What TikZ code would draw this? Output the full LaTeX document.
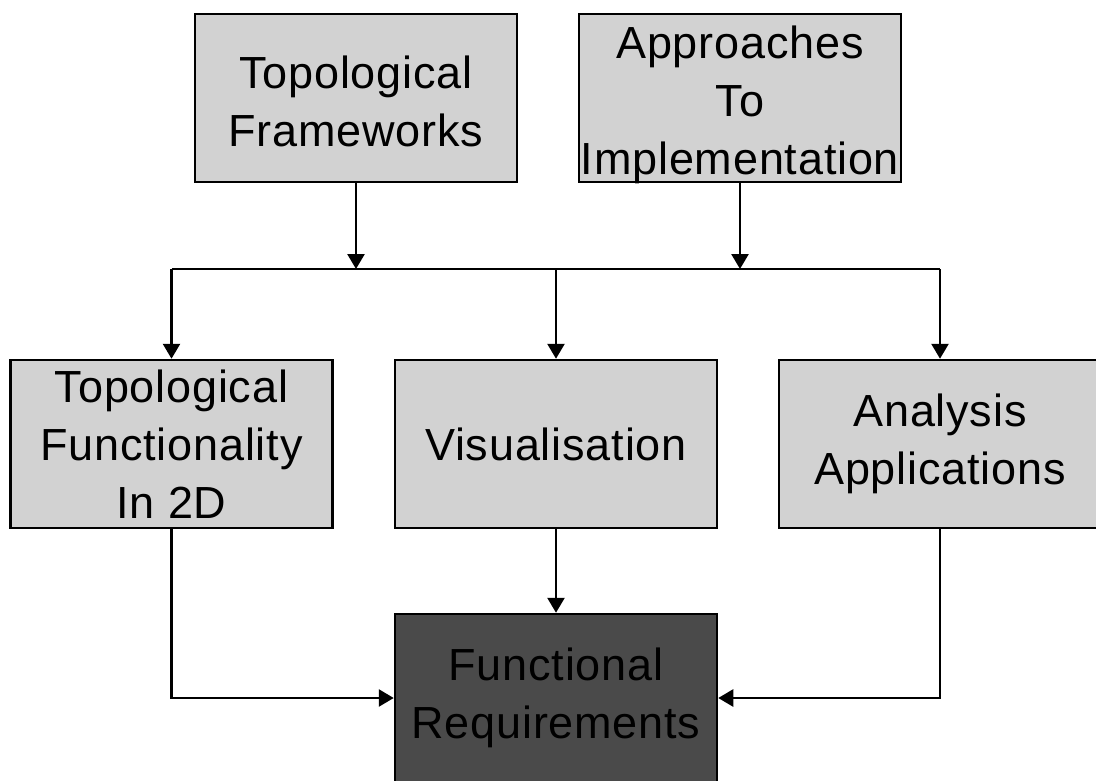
\documentclass[tikz,border=0pt]{standalone}
\usepackage{fontspec}
\setmainfont{Liberation Sans}[LetterSpace=1.8]
\usetikzlibrary{arrows.meta}
\definecolor{boxgray}{RGB}{210,210,210}
\definecolor{darkbox}{RGB}{74,74,74}
\begin{document}
\begin{tikzpicture}[x=1pt,y=-1pt,
  boxfont/.style={align=center, font=\fontsize{45}{58}\selectfont},
  box/.style={draw=black, line width=2.5pt, fill=boxgray,
    minimum width=322pt, minimum height=168pt, inner sep=0pt, boxfont},
  dark/.style={box, fill=darkbox},
  lowtext/.style={boxfont, inner sep=0pt, yshift=#1},
  link/.style={draw=black, line width=2.6pt},
  arr/.style={link, -{Triangle[width=17pt,length=15pt]}}]
  \useasboundingbox (0,0) rectangle (1096,780);
  \clip (0,0) rectangle (1096,780);

  % upper row
  \node[box, label={[lowtext=-3pt]center:Topological\\Frameworks}] (frame) at (356,98) {};
  \node[box, label={[lowtext=-7pt]center:Approaches\\To\\Implementation}] (impl) at (740,98) {};

  % middle row
  \node[box] (topo) at (171.5,444) {Topological\\Functionality\\In 2D};
  \node[box] (vis)  at (556,444)   {Visualisation};
  \node[box] (ana)  at (940,444)   {Analysis\\Applications};

  % result
  \node[dark] (req) at (556,698) {Functional\\Requirements};

  % distribution bus
  \coordinate (busL) at (171.5,269);
  \coordinate (busR) at (940,269);
  \draw[link] (busL) -- (busR);
  \draw[arr] (frame.south) -- (frame.south |- busL);
  \draw[arr] (impl.south) -- (impl.south |- busL);
  \draw[arr] (busL) -- (topo.north);
  \draw[arr] (vis.north |- busL) -- (vis.north);
  \draw[arr] (busR) -- (ana.north);

  % into requirements
  \draw[arr] (vis.south) -- (req.north);
  \draw[arr] (topo.south) |- (req.west);
  \draw[arr] (ana.south) |- (req.east);
\end{tikzpicture}
\end{document}
